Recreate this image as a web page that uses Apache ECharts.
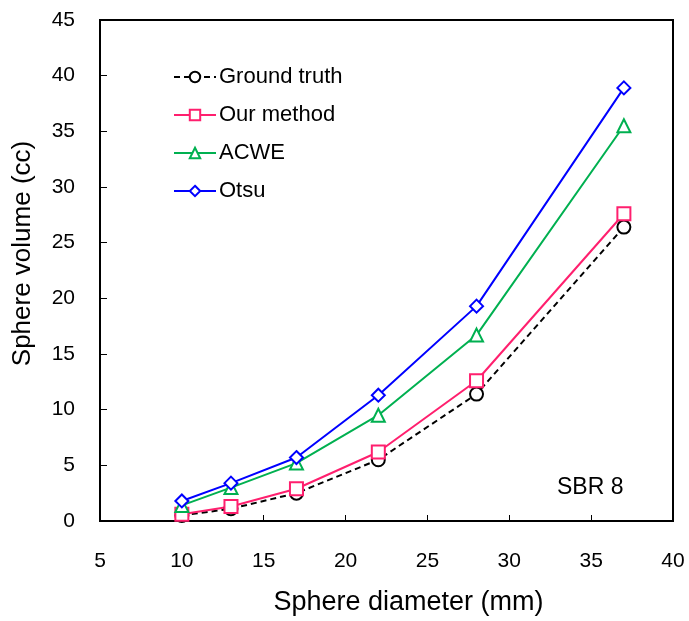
<!DOCTYPE html>
<html>
<head>
<meta charset="utf-8">
<script src="https://cdn.jsdelivr.net/npm/echarts@6/dist/echarts.min.js"></script>
<style>
html, body { margin: 0; padding: 0; background: #fff; }
#chart { width: 689px; height: 621px; }
</style>
</head>
<body>
<div id="chart"></div>
<script>
var diameters = [10, 13, 17, 22, 28, 37];
var groundTruth = [0.5, 1.1, 2.5, 5.5, 11.4, 26.4];
var ourMethod = [0.6, 1.3, 2.9, 6.2, 12.6, 27.6];
var acwe = [1.4, 3.0, 5.2, 9.5, 16.7, 35.5];
var otsu = [1.8, 3.4, 5.7, 11.3, 19.3, 38.9];

function pairs(ys) {
    var out = [];
    for (var i = 0; i < diameters.length; i++) {
        out.push([diameters[i], ys[i]]);
    }
    return out;
}

function makeSeries(name, ys, color, symbol, dashed) {
    return {
        name: name,
        type: 'line',
        data: pairs(ys),
        symbol: symbol,
        symbolSize: 13,
        showSymbol: true,
        color: color,
        lineStyle: { color: color, width: 2, type: dashed ? [6, 4] : 'solid' },
        itemStyle: { color: color, borderWidth: 2 },
        z: 3
    };
}

var chart = echarts.init(document.getElementById('chart'));
var font = 'Liberation Sans, Arial, sans-serif';
chart.setOption({
    animation: false,
    backgroundColor: '#fff',
    textStyle: { fontFamily: font },
    grid: {
        left: 100, top: 20, right: 16, bottom: 97,
        show: true, borderColor: '#000', borderWidth: 2
    },
    legend: {
        orient: 'vertical',
        left: 168,
        top: 61,
        itemWidth: 42,
        itemHeight: 13,
        itemGap: 16,
        textStyle: { fontSize: 22, color: '#000', fontFamily: font, padding: [0, 0, 0, -2] }
    },
    xAxis: {
        type: 'value',
        min: 5, max: 40, interval: 5,
        name: 'Sphere diameter (mm)',
        nameLocation: 'middle',
        nameGap: 68,
        nameTextStyle: { fontSize: 27, color: '#000', fontFamily: font, padding: [0, 0, 0, 44] },
        axisLine: { lineStyle: { color: '#000', width: 2 } },
        axisTick: { inside: true, length: 6, lineStyle: { color: '#000' } },
        axisLabel: { fontSize: 21, color: '#000', margin: 30 },
        splitLine: { show: false }
    },
    yAxis: {
        type: 'value',
        min: 0, max: 45, interval: 5,
        name: 'Sphere volume (cc)',
        nameLocation: 'middle',
        nameGap: 64,
        nameTextStyle: { fontSize: 26, color: '#000', fontFamily: font, padding: [0, 0, 0, 34] },
        axisLine: { show: true, lineStyle: { color: '#000', width: 2 } },
        axisTick: { show: true, inside: true, length: 7, lineStyle: { color: '#000' } },
        axisLabel: { fontSize: 21, color: '#000', margin: 25 },
        splitLine: { show: false }
    },
    graphic: [{
        type: 'text',
        left: 557,
        top: 476,
        style: { text: 'SBR 8', fontSize: 23, fill: '#000', fontFamily: font }
    }],
    series: [
        makeSeries('Ground truth', groundTruth, '#000000', 'emptyCircle', true),
        makeSeries('Our method', ourMethod, '#FF1F6E', 'emptyRect', false),
        makeSeries('ACWE', acwe, '#00B050', 'emptyTriangle', false),
        makeSeries('Otsu', otsu, '#0000FF', 'emptyDiamond', false)
    ]
});
</script>
</body>
</html>
